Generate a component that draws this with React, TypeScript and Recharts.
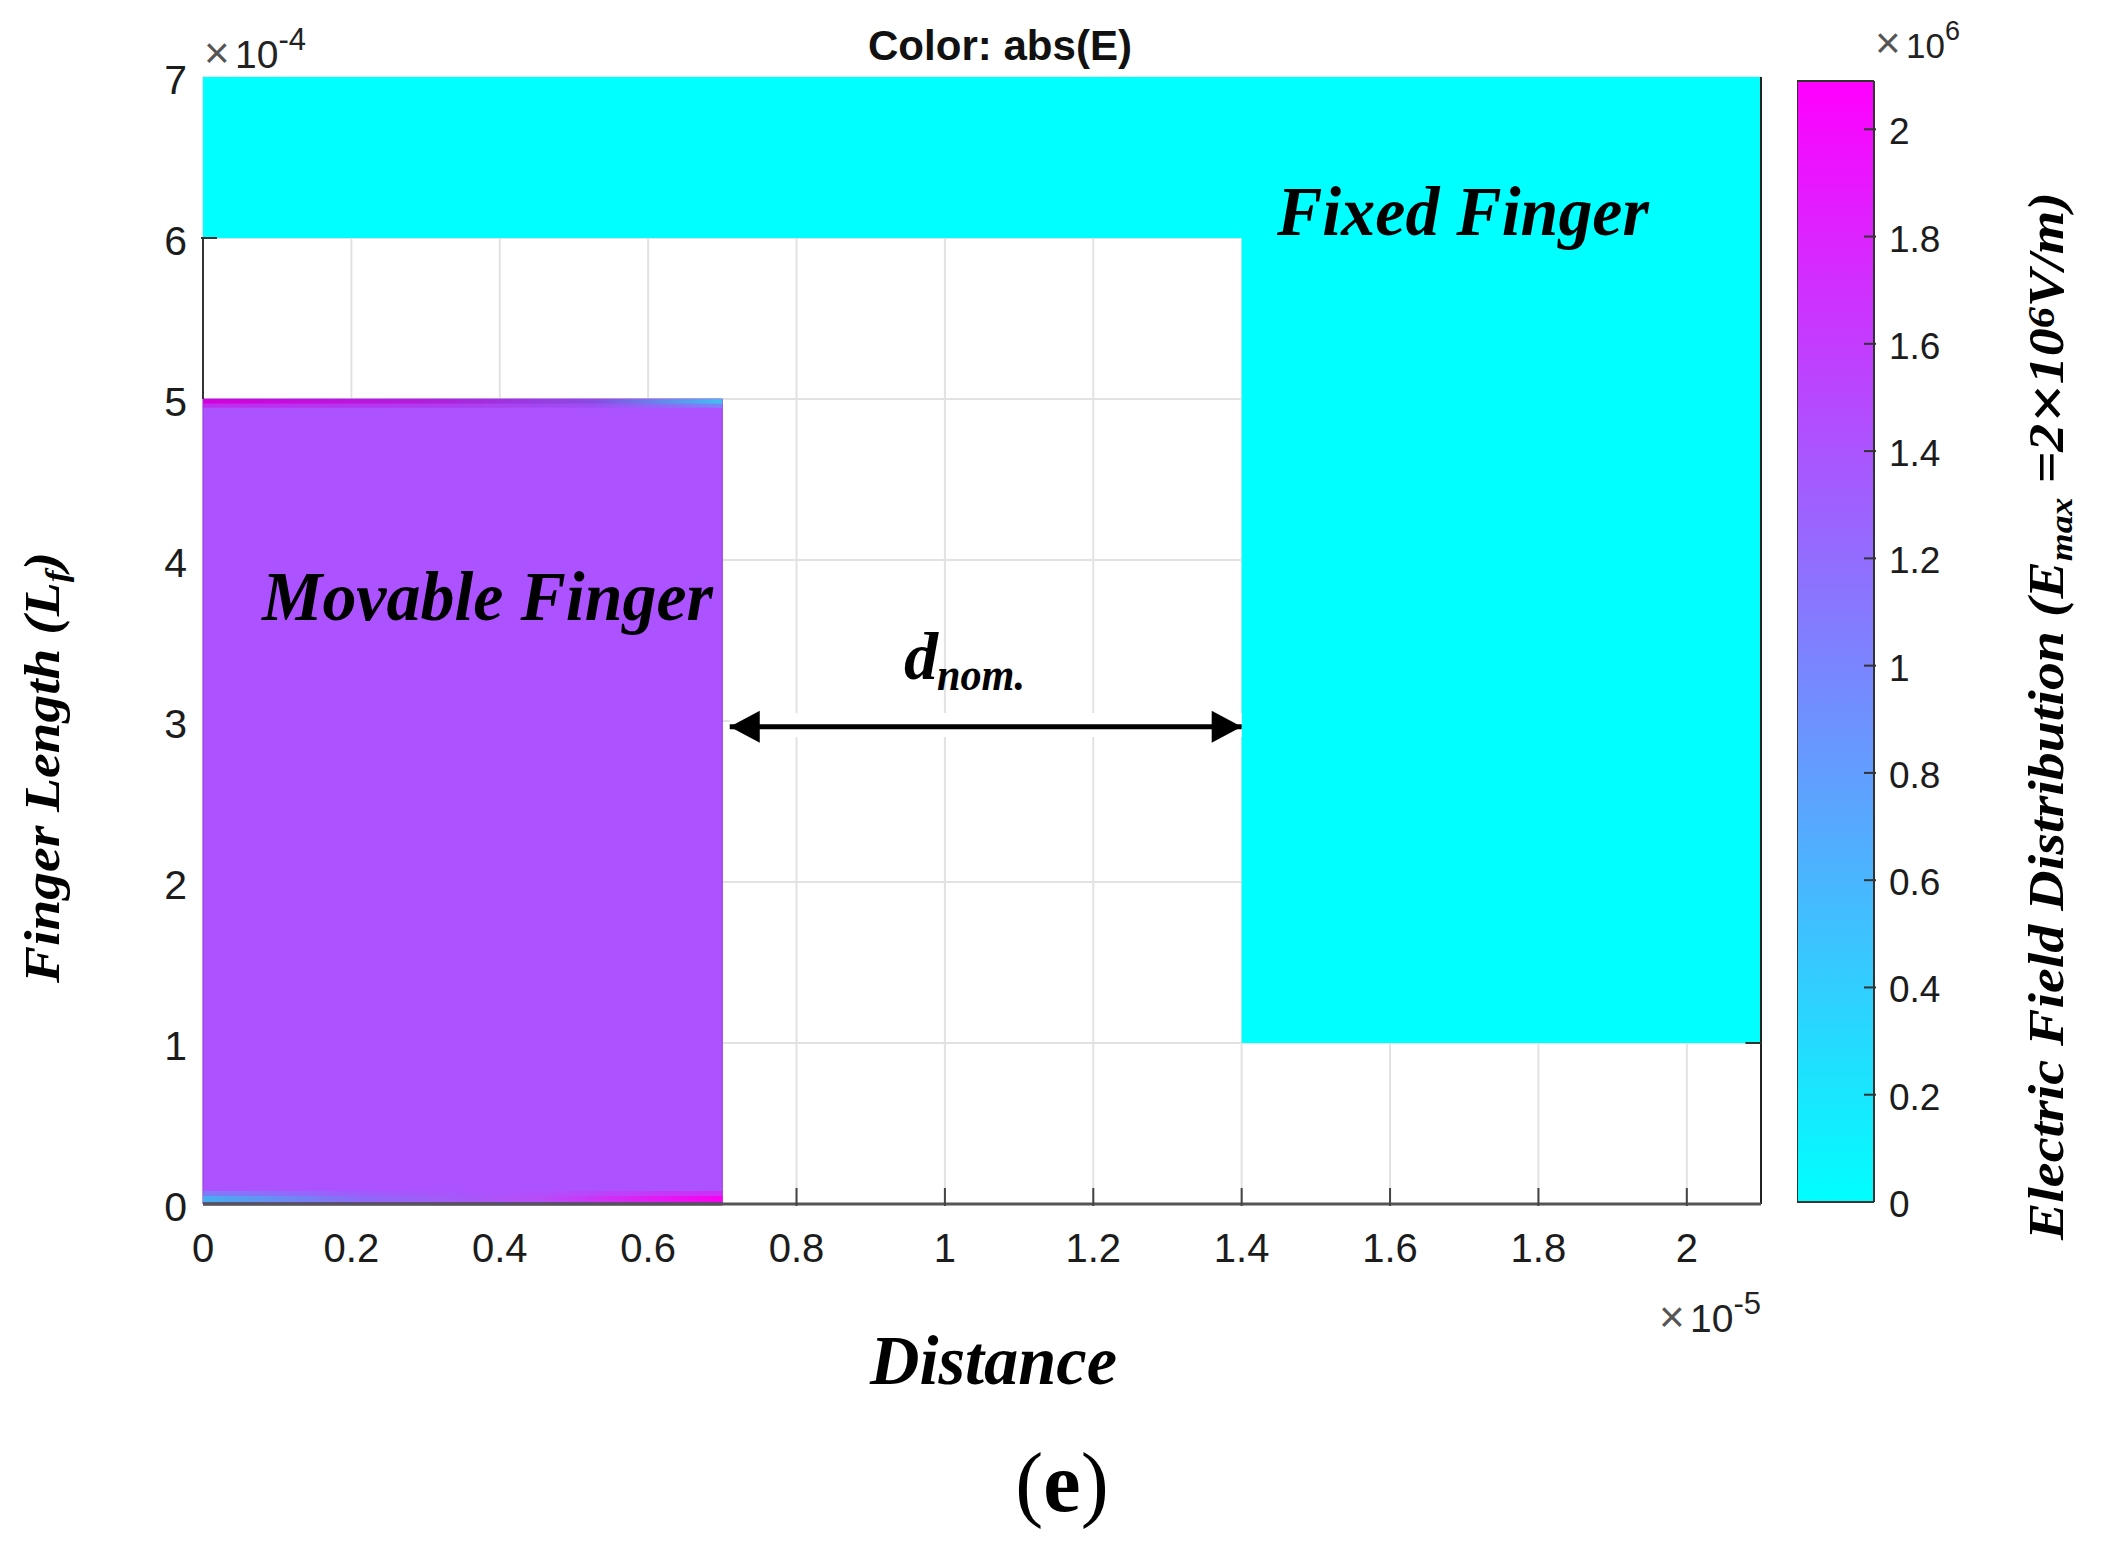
import React from 'react';
import {
  Bar,
  BarChart,
  CartesianGrid,
  ComposedChart,
  Line,
  ReferenceArea,
  ReferenceLine,
  XAxis,
  YAxis,
} from 'recharts';

// values are in the axis units of the figure: x * 1e-5, y * 1e-4, colour * 1e6
const xTicks = [0, 0.2, 0.4, 0.6, 0.8, 1, 1.2, 1.4, 1.6, 1.8, 2];
const yTicks = [0, 1, 2, 3, 4, 5, 6, 7];
const colorTicks = [0, 0.2, 0.4, 0.6, 0.8, 1, 1.2, 1.4, 1.6, 1.8, 2];

const xDomain = [0, 2.1];
const yDomain = [0, 7];
const colorDomain = [0, 2.09];

const basePlateX = [0, 2.1];
const basePlateY = [6, 7];
const fixedFingerX = [1.4, 2.1];
const fixedFingerY = [1, 6];
const movableFingerX = [0, 0.7];
const movableFingerY = [0, 5];

const topEdgeY = [4.97, 5];
const topFadeY = [4.945, 4.97];
const bottomEdgeY = [0.01, 0.05];
const bottomFadeY = [0.05, 0.08];
const gapLabelY = [2.9, 3.05];

const arrowPoints = [
  { x: 0.71, y: 2.965 },
  { x: 1.4, y: 2.965 },
];
const colorBar = [{ name: 'abs(E)', value: 2.09 }];
const colorBaseline = [
  { x: 0, y: 0 },
  { x: 1, y: 0 },
];

const SANS = '"Liberation Sans", Arial, sans-serif';
const SERIF = '"Liberation Serif", "Times New Roman", serif';
const TICK_COLOR = '#1c1c1c';
const COLOR_MARGIN = { top: 81, right: 0, bottom: 340, left: 0 };

function XTick({ x, y, payload }: any) {
  const v = payload.value;
  return (
    <g>
      {v > 0.7 && <line x1={x} x2={x} y1={y} y2={y - 18} stroke="#444" strokeWidth={2} />}
      <text x={x} y={y + 56} textAnchor="middle" fontFamily={SANS} fontSize={40} fill={TICK_COLOR}>
        {v}
      </text>
    </g>
  );
}

function YTick({ x, y, payload }: any) {
  const v = payload.value;
  return (
    <g>
      {v === 6 && <line x1={x} x2={x + 16} y1={y} y2={y} stroke="#333" strokeWidth={2} />}
      <text x={x - 14} y={y + 17} textAnchor="end" fontFamily={SANS} fontSize={41} fill={TICK_COLOR}>
        {v}
      </text>
    </g>
  );
}

function ColorTick({ x, y, payload }: any) {
  const v = payload.value;
  return (
    <g>
      {v > 0 && <line x1={x - 12} x2={x} y1={y} y2={y} stroke="#333" strokeWidth={2} />}
      <text x={x + 13} y={y + 15} fontFamily={SANS} fontSize={37} fill={TICK_COLOR}>
        {v}
      </text>
    </g>
  );
}

function ArrowHead({ cx, cy, index }: any) {
  const dir = index === 0 ? 1 : -1;
  return (
    <polygon
      key={index}
      points={`${cx},${cy} ${cx + dir * 30},${cy - 16} ${cx + dir * 30},${cy + 16}`}
      fill="#000"
    />
  );
}

function Exponent({ x, y, base, power, size = 39, powerSize = 31 }: any) {
  return (
    <text y={y} fontFamily={SANS} fill="#222">
      <tspan x={x} fontSize={44} fill="#555">×</tspan>
      <tspan x={x + 31} fontSize={size}>{base}</tspan>
      <tspan fontSize={powerSize} dy={-18}>{power}</tspan>
    </text>
  );
}

function Serif({ x, y, size = 70, width, rotate, children }: any) {
  return (
    <text
      x={x}
      y={y}
      fontFamily={SERIF}
      fontWeight="bold"
      fontStyle="italic"
      fontSize={size}
      fill="#000"
      textLength={width}
      lengthAdjust={width ? 'spacingAndGlyphs' : undefined}
      transform={rotate ? `rotate(-90 ${x} ${y})` : undefined}
    >
      {children}
    </text>
  );
}

const fixedFingerLabel = () => <Serif x={1277} y={235} width={372}>Fixed Finger</Serif>;
const movableFingerLabel = () => <Serif x={262} y={620} width={451}>Movable Finger</Serif>;

export default function App() {
  return (
    <div style={{ position: 'absolute', left: 0, top: 0, width: 2109, height: 1542, background: '#fff' }}>
      <div style={{ position: 'absolute', left: 0, top: 0 }}>
        <ComposedChart width={2109} height={1542} margin={{ top: 77, right: 348, bottom: 0, left: 0 }}>
          <defs>
            <linearGradient id="topEdge" x1="0" x2="1" y1="0" y2="0">
              <stop offset="0" stopColor="#d400dc" />
              <stop offset="0.45" stopColor="#b020dc" />
              <stop offset="0.75" stopColor="#8a4ae4" />
              <stop offset="1" stopColor="#3fc0f2" />
            </linearGradient>
            <linearGradient id="bottomEdge" x1="0" x2="1" y1="0" y2="0">
              <stop offset="0" stopColor="#46aef0" />
              <stop offset="0.3" stopColor="#8f68f8" />
              <stop offset="0.65" stopColor="#b84cf8" />
              <stop offset="1" stopColor="#f800f0" />
            </linearGradient>
          </defs>
          <CartesianGrid stroke="#e2e2e2" strokeWidth={2} horizontalValues={yTicks} verticalValues={xTicks} />
          <XAxis
            dataKey="x"
            type="number"
            domain={xDomain}
            ticks={xTicks}
            height={338}
            tick={XTick}
            tickLine={false}
            tickSize={0}
            interval={0}
            axisLine={{ stroke: '#555', strokeWidth: 3 }}
          />
          <YAxis
            type="number"
            domain={yDomain}
            ticks={yTicks}
            width={203}
            tick={YTick}
            tickLine={false}
            tickSize={0}
            interval={0}
            axisLine={false}
          />
          <ReferenceLine segment={[{ x: 0, y: 5 }, { x: 0, y: 6 }]} stroke="#333" strokeWidth={2} />

          <ReferenceArea x1={basePlateX[0]} x2={basePlateX[1]} y1={basePlateY[0]} y2={basePlateY[1]} fill="#00ffff" fillOpacity={1} />
          <ReferenceArea
            x1={fixedFingerX[0]}
            x2={fixedFingerX[1]}
            y1={fixedFingerY[0]}
            y2={fixedFingerY[1]}
            fill="#00ffff"
            fillOpacity={1}
            label={fixedFingerLabel}
          />
          <ReferenceArea
            x1={movableFingerX[0]}
            x2={movableFingerX[1]}
            y1={movableFingerY[0]}
            y2={movableFingerY[1]}
            fill="#ad52ff"
            fillOpacity={1}
            stroke="#9a3fe8"
            strokeWidth={1}
            label={movableFingerLabel}
          />
          <ReferenceArea x1={movableFingerX[0]} x2={movableFingerX[1]} y1={topEdgeY[0]} y2={topEdgeY[1]} fill="url(#topEdge)" fillOpacity={1} />
          <ReferenceArea x1={movableFingerX[0]} x2={movableFingerX[1]} y1={topFadeY[0]} y2={topFadeY[1]} fill="url(#topEdge)" fillOpacity={0.45} />
          <ReferenceArea x1={movableFingerX[0]} x2={movableFingerX[1]} y1={bottomEdgeY[0]} y2={bottomEdgeY[1]} fill="url(#bottomEdge)" fillOpacity={1} />
          <ReferenceArea x1={movableFingerX[0]} x2={movableFingerX[1]} y1={bottomFadeY[0]} y2={bottomFadeY[1]} fill="url(#bottomEdge)" fillOpacity={0.45} />
          <ReferenceLine segment={[{ x: movableFingerX[0], y: 0 }, { x: movableFingerX[1], y: 0 }]} stroke="#3d2a66" strokeWidth={3} />

          <ReferenceArea x1={arrowPoints[0].x} x2={arrowPoints[1].x} y1={gapLabelY[0]} y2={gapLabelY[1]} fill="#fff" fillOpacity={1} />
          <ReferenceLine segment={[{ x: 2.1, y: 0 }, { x: 2.1, y: 7 }]} stroke="#222" strokeWidth={2} />
          <ReferenceLine segment={[{ x: 2.079, y: 1 }, { x: 2.1, y: 1 }]} stroke="#333" strokeWidth={2} />
          <Line
            data={arrowPoints}
            dataKey="y"
            stroke="#000"
            strokeWidth={5}
            dot={ArrowHead}
            activeDot={false}
            legendType="none"
            isAnimationActive={false}
          />

          <text
            x={868}
            y={60}
            fontFamily={SANS}
            fontWeight="bold"
            fontSize={42}
            fill="#111"
            textLength={264}
            lengthAdjust="spacingAndGlyphs"
          >
            Color: abs(E)
          </text>
          <Exponent x={204} y={68} base="10" power="-4" />
          <Exponent x={1659} y={1332} base="10" power="-5" />
          <Exponent x={1875} y={58} base="10" power="6" size={35} powerSize={27} />

          <Serif x={870} y={1384} width={247}>Distance</Serif>
          <Serif x={904} y={679} size={68}>d</Serif>
          <Serif x={937} y={690} size={46} width={88}>nom.</Serif>

          <Serif x={59} y={983} size={50} width={431} rotate>
            Finger Length (L<tspan fontSize={32} dy={8}>f</tspan><tspan dy={-8}>)</tspan>
          </Serif>
          <Serif x={2063} y={1240} size={50} width={1048} rotate>
            Electric Field Distribution (E<tspan fontSize={32} dy={9}>max</tspan>
            <tspan dy={-9}> =2</tspan><tspan fontSize={62} dy={5}>×</tspan><tspan dy={-5}>10</tspan>
            <tspan fontSize={38} dy={-9}>6</tspan><tspan dy={9}>V/m)</tspan>
          </Serif>

          <text x={1062} y={1511} textAnchor="middle" fontFamily={SERIF} fontSize={84} fill="#000">
            (<tspan fontWeight="bold">e</tspan>)
          </text>
        </ComposedChart>
      </div>

      {/* colour scale: the bar sits above axes in recharts, so ticks and outline go in a second chart on top */}
      <div style={{ position: 'absolute', left: 1797, top: 0 }}>
        <BarChart width={312} height={1542} data={colorBar} barCategoryGap={0} margin={COLOR_MARGIN}>
          <defs>
            <linearGradient id="coolMap" x1="0" x2="0" y1="0" y2="1">
              <stop offset="0" stopColor="#ff00ff" />
              <stop offset="1" stopColor="#00ffff" />
            </linearGradient>
          </defs>
          <XAxis dataKey="name" hide />
          <YAxis orientation="right" type="number" domain={colorDomain} width={235} tick={false} tickLine={false} axisLine={false} />
          <Bar dataKey="value" fill="url(#coolMap)" isAnimationActive={false} />
        </BarChart>
      </div>
      <div style={{ position: 'absolute', left: 1797, top: 0 }}>
        <ComposedChart width={312} height={1542} margin={COLOR_MARGIN}>
          <XAxis dataKey="x" type="number" domain={[0, 1]} hide />
          <YAxis
            orientation="right"
            type="number"
            domain={colorDomain}
            ticks={colorTicks}
            width={235}
            tick={ColorTick}
            tickLine={false}
            tickSize={0}
            interval={0}
            axisLine={false}
          />
          <ReferenceLine segment={[{ x: 0, y: 0 }, { x: 0, y: 2.09 }]} stroke="#333" strokeWidth={2} />
          <ReferenceLine segment={[{ x: 0, y: 2.09 }, { x: 1, y: 2.09 }]} stroke="#333" strokeWidth={2} />
          <ReferenceLine segment={[{ x: 1, y: 0 }, { x: 1, y: 2.09 }]} stroke="#333" strokeWidth={2} />
          <Line
            data={colorBaseline}
            dataKey="y"
            stroke="#333"
            strokeWidth={2}
            dot={false}
            activeDot={false}
            legendType="none"
            isAnimationActive={false}
          />
        </ComposedChart>
      </div>
    </div>
  );
}
